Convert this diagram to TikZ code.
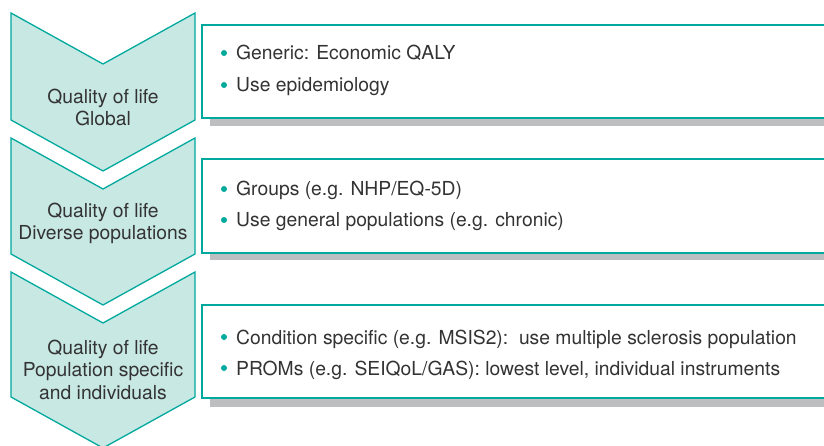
\documentclass[tikz,border=0pt]{standalone}
\usepackage{fontspec}
\setmainfont{TeX Gyre Heros}
\definecolor{tealline}{HTML}{00A99D}
\definecolor{tealfill}{HTML}{C8E8E4}
\definecolor{shadowgray}{HTML}{BCBEC0}
\definecolor{txtgray}{HTML}{333333}
\begin{document}
\begin{tikzpicture}[x=1pt,y=-1pt,
  chev/.style={fill=tealfill,draw=tealline,line width=1.3pt,line join=miter},
  boxstyle/.style={fill=white,draw=tealline,line width=2.2pt},
  shadowstyle/.style={fill=shadowgray},
  lbl/.style={anchor=base,text=txtgray,inner sep=0pt,font=\fontsize{19.3}{22}\selectfont},
  itm/.style={anchor=base west,text=txtgray,inner sep=0pt,font=\fontsize{19.3}{22}\selectfont},
  dot/.style={circle,fill=tealline,inner sep=0pt,minimum size=6pt}]
\useasboundingbox (0,0) rectangle (824,446);
\clip (0,0) rectangle (824,446);
% chevrons
\draw[chev] (11,13) -- (103,64) -- (195,13) -- (195,120) -- (103,171) -- (11,120) -- cycle;
\draw[chev] (11,138) -- (103,189) -- (195,138) -- (195,254) -- (103,305) -- (11,254) -- cycle;
\draw[chev] (11,272) -- (103,323) -- (195,272) -- (195,397) -- (103,448) -- (11,397) -- cycle;
% chevron labels
\node[lbl] (c1a) at (103,104) {Quality of life};
\node[lbl] (c1b) at (103,126) {Global};
\node[lbl] (c2a) at (103,218) {Quality of life};
\node[lbl] (c2b) at (103,240) {Diverse populations};
\node[lbl] (c3a) at (103,354) {Quality of life};
\node[lbl] (c3b) at (103,376) {Population specific};
\node[lbl] (c3c) at (103,399) {and individuals};
% boxes
\fill[shadowstyle] (210,33) rectangle (830,126);
\draw[boxstyle] (202,25) rectangle (835,118);
\fill[shadowstyle] (210,167) rectangle (830,260);
\draw[boxstyle] (202,159) rectangle (835,253);
\fill[shadowstyle] (210,313) rectangle (830,407);
\draw[boxstyle] (202,305) rectangle (835,398);
% items
\node[dot] (d1a) at (224,53) {};
\node[itm] (t1a) at (236,60) {Generic: Economic QALY};
\node[dot] (d1b) at (224,85) {};
\node[itm] (t1b) at (236,92) {Use epidemiology};
\node[dot] (d2a) at (224,189) {};
\node[itm] (t2a) at (236,196) {Groups (e.g. NHP/EQ-5D)};
\node[dot] (d2b) at (224,220) {};
\node[itm] (t2b) at (236,227) {Use general populations (e.g. chronic)};
\node[dot] (d3a) at (224,337) {};
\node[itm] (t3a) at (236,344) {Condition specific (e.g. MSIS2):\ \ use multiple sclerosis population};
\node[dot] (d3b) at (224,368) {};
\node[itm] (t3b) at (236,375) {PROMs (e.g. SEIQoL/GAS): lowest level, individual instruments};
\end{tikzpicture}
\end{document}
